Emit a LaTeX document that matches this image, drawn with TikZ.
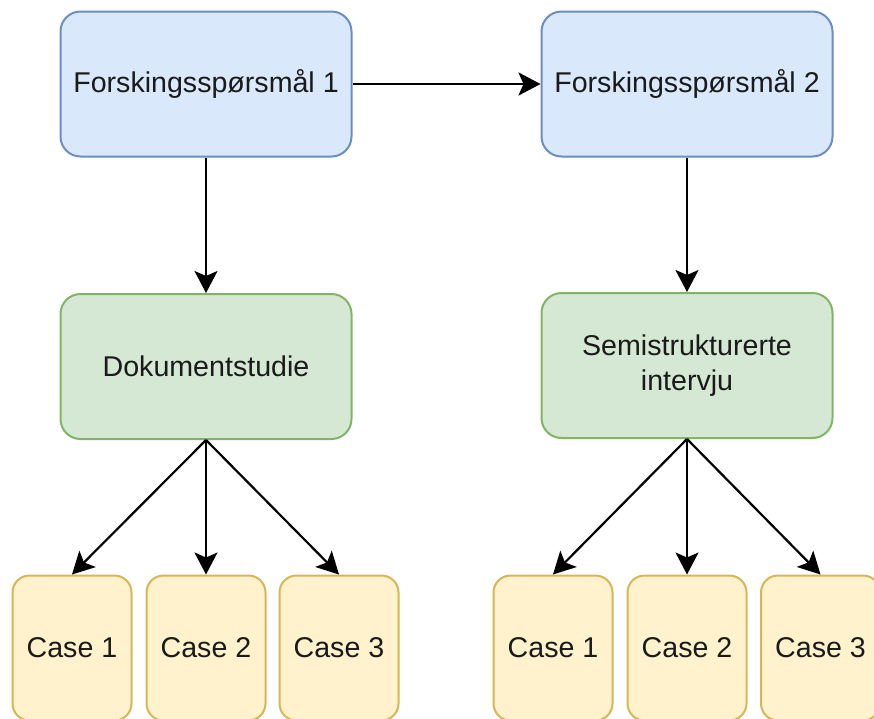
\documentclass[tikz,border=0pt]{standalone}
\usepackage{fontspec}
\setmainfont{Liberation Sans}
\usetikzlibrary{arrows.meta}

\definecolor{qfill}{HTML}{DAE8FC}
\definecolor{qline}{HTML}{6C8EBF}
\definecolor{mfill}{HTML}{D5E8D4}
\definecolor{mline}{HTML}{82B366}
\definecolor{cfill}{HTML}{FFF2CC}
\definecolor{cline}{HTML}{D6B656}
\definecolor{ink}{HTML}{1A1A1A}

\tikzset{
  box/.style={rectangle, rounded corners=20pt, line width=2pt, align=center,
    text=ink, font=\fontsize{28.6}{35}\selectfont, inner sep=0pt},
  question/.style={box, fill=qfill, draw=qline, minimum width=291pt, minimum height=145pt},
  method/.style={box, fill=mfill, draw=mline, minimum width=291pt, minimum height=145pt},
  casebox/.style={box, rounded corners=17pt, fill=cfill, draw=cline, minimum width=119pt, minimum height=145pt},
  link/.style={line width=2.2pt, -{Stealth[length=22pt, width=23pt, inset=5pt]}}
}

\begin{document}
\begin{tikzpicture}[x=1pt, y=-1pt]
  \useasboundingbox (0,0) rectangle (874,718);
  \clip (0,0) rectangle (874,718);

  % research questions
  \node[question] (q1) at (206,84) {Forskingsspørsmål 1};
  \node[question] (q2) at (687,84) {Forskingsspørsmål 2};

  % methods
  \node[method] (doc) at (206,366.5) {Dokumentstudie};
  \node[method] (int) at (687,365.5) {Semistrukturerte\\intervju};

  % cases
  \node[casebox] (a1) at (72,648)    {Case 1};
  \node[casebox] (a2) at (206,648)   {Case 2};
  \node[casebox] (a3) at (339,648)   {Case 3};
  \node[casebox] (b1) at (553,648)   {Case 1};
  \node[casebox] (b2) at (687,648)   {Case 2};
  \node[casebox] (b3) at (820.5,648) {Case 3};

  % connectors
  \draw[link] (q1.east) -- (q2.west);
  \draw[link] (q1.south) -- (doc.north);
  \draw[link] (q2.south) -- (int.north);
  \draw[link] (doc.south) -- (a1.north);
  \draw[link] (doc.south) -- (a2.north);
  \draw[link] (doc.south) -- (a3.north);
  \draw[link] (int.south) -- (b1.north);
  \draw[link] (int.south) -- (b2.north);
  \draw[link] (int.south) -- (b3.north);
\end{tikzpicture}
\end{document}
